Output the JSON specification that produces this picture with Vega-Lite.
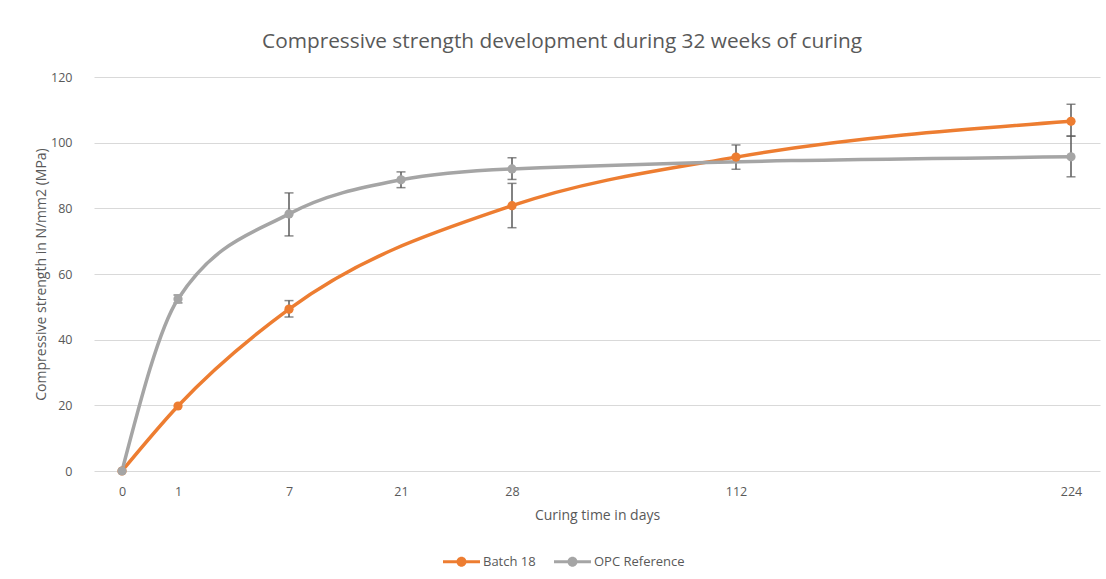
{
  "$schema": "https://vega.github.io/schema/vega-lite/v6.json",
  "width": 1006,
  "height": 394,
  "autosize": {"type": "none"},
  "padding": {"left": 94, "top": 77, "right": 6, "bottom": 108},
  "background": "white",
  "title": {
    "text": "Compressive strength development during 32 weeks of curing",
    "font": "Open Sans",
    "fontSize": 20.8,
    "fontWeight": "normal",
    "color": "#595959",
    "anchor": "middle",
    "dx": -35,
    "offset": 18
  },
  "config": {
    "view": {"stroke": null},
    "axis": {
      "labelFont": "Open Sans",
      "titleFont": "Open Sans",
      "labelFontSize": 12.5,
      "titleFontSize": 14,
      "labelColor": "#595959",
      "titleColor": "#595959",
      "titleFontWeight": "normal"
    },
    "legend": {"labelFont": "Open Sans", "labelFontSize": 13, "labelColor": "#595959"}
  },
  "data": {
    "values": [
      {"series": "Batch 18", "day": 0, "value": 0},
      {"series": "Batch 18", "day": 1, "value": 19.8},
      {"series": "Batch 18", "day": 7, "value": 49.3, "lo": 46.9, "hi": 51.9},
      {"series": "Batch 18", "day": 28, "value": 80.8, "lo": 74.1, "hi": 87.6},
      {"series": "Batch 18", "day": 112, "value": 95.6, "lo": 91.9, "hi": 99.3},
      {"series": "Batch 18", "day": 224, "value": 106.5, "lo": 102.0, "hi": 111.7},
      {"series": "OPC Reference", "day": 0, "value": 0},
      {"series": "OPC Reference", "day": 1, "value": 52.4, "lo": 51.2, "hi": 53.6},
      {"series": "OPC Reference", "day": 7, "value": 78.3, "lo": 71.6, "hi": 84.7},
      {"series": "OPC Reference", "day": 21, "value": 88.7, "lo": 86.3, "hi": 91.1},
      {"series": "OPC Reference", "day": 28, "value": 92.0, "lo": 88.8, "hi": 95.4},
      {"series": "OPC Reference", "day": 224, "value": 95.7, "lo": 89.6, "hi": 102.0}
    ]
  },
  "encoding": {
    "x": {
      "field": "day",
      "type": "quantitative",
      "title": "Curing time in days",
      "scale": {"domain": [-0.5, 0, 1, 7, 21, 28, 112, 224, 233], "range": [0, 28, 84, 195, 307, 418, 642, 977, 1006]},
      "axis": {
        "values": [0, 1, 7, 21, 28, 112, 224],
        "grid": false,
        "domain": false,
        "ticks": false,
        "labelPadding": 14,
        "titlePadding": 11,
        "labelFlush": false
      }
    },
    "y": {
      "field": "value",
      "type": "quantitative",
      "title": "Compressive strength in N/mm2 (MPa)",
      "scale": {"domain": [0, 120], "nice": false},
      "axis": {
        "values": [0, 20, 40, 60, 80, 100, 120],
        "grid": true,
        "gridColor": "#d9d9d9",
        "gridWidth": 1,
        "domain": false,
        "ticks": false,
        "labelPadding": 22,
        "titlePadding": 2
      }
    }
  },
  "layer": [
    {
      "mark": {"type": "errorbar", "ticks": {"size": 9}, "color": "#595959", "thickness": 1.5},
      "encoding": {
        "y": {"field": "lo", "type": "quantitative"},
        "y2": {"field": "hi"},
        "detail": {"field": "series"}
      }
    },
    {
      "mark": {"type": "line", "interpolate": "monotone", "strokeWidth": 3.5},
      "encoding": {
        "color": {
          "field": "series",
          "type": "nominal",
          "scale": {"domain": ["Batch 18", "OPC Reference"], "range": ["#ED7D31", "#A5A5A5"]},
          "legend": {
            "title": null,
            "orient": "none",
            "direction": "horizontal",
            "legendX": 349,
            "legendY": 466,
            "symbolType": "M-1,-0.08H1V0.08H-1Z M0.27,0A0.27,0.27 0 1,1 -0.27,0A0.27,0.27 0 1,1 0.27,0Z",
            "symbolSize": 1369,
            "symbolStrokeWidth": 0,
            "columnPadding": 18,
            "labelOffset": 3
          }
        }
      }
    },
    {
      "mark": {"type": "point", "filled": true, "size": 85, "opacity": 1},
      "encoding": {
        "color": {"field": "series", "type": "nominal"}
      }
    }
  ]
}
